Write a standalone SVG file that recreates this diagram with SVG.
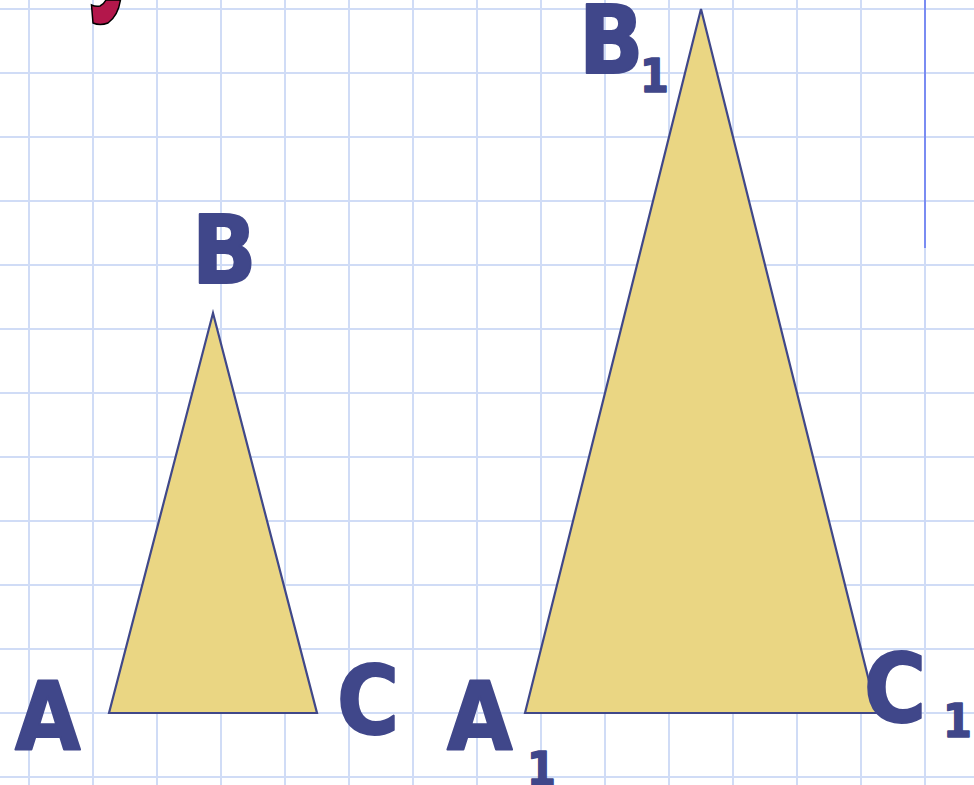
<svg xmlns="http://www.w3.org/2000/svg" width="974" height="785" viewBox="0 0 974 785">
<style>
.grid line{stroke:#d0dcf6;stroke-width:2}
.tri{fill:#ead683;stroke:#404889;stroke-width:2.2;stroke-linejoin:miter}
.lbl{font-family:"DejaVu Sans Condensed","DejaVu Sans",sans-serif;font-weight:bold;fill:#40478a;stroke:#40478a;stroke-width:2;stroke-linejoin:round}
.big{font-size:94px}
.sub{font-size:46px;stroke-width:1.5}
</style>
<rect width="974" height="785" fill="#ffffff"/>
<g class="grid">
<line x1="29" y1="0" x2="29" y2="785"/><line x1="93" y1="0" x2="93" y2="785"/><line x1="157" y1="0" x2="157" y2="785"/><line x1="221" y1="0" x2="221" y2="785"/><line x1="285" y1="0" x2="285" y2="785"/><line x1="349" y1="0" x2="349" y2="785"/><line x1="413" y1="0" x2="413" y2="785"/><line x1="477" y1="0" x2="477" y2="785"/><line x1="541" y1="0" x2="541" y2="785"/><line x1="605" y1="0" x2="605" y2="785"/><line x1="669" y1="0" x2="669" y2="785"/><line x1="733" y1="0" x2="733" y2="785"/><line x1="797" y1="0" x2="797" y2="785"/><line x1="861" y1="0" x2="861" y2="785"/><line x1="925" y1="0" x2="925" y2="785"/>
<line x1="0" y1="9" x2="974" y2="9"/><line x1="0" y1="73" x2="974" y2="73"/><line x1="0" y1="137" x2="974" y2="137"/><line x1="0" y1="201" x2="974" y2="201"/><line x1="0" y1="265" x2="974" y2="265"/><line x1="0" y1="329" x2="974" y2="329"/><line x1="0" y1="393" x2="974" y2="393"/><line x1="0" y1="457" x2="974" y2="457"/><line x1="0" y1="521" x2="974" y2="521"/><line x1="0" y1="585" x2="974" y2="585"/><line x1="0" y1="649" x2="974" y2="649"/><line x1="0" y1="713" x2="974" y2="713"/><line x1="0" y1="777" x2="974" y2="777"/>
</g>
<line x1="925" y1="0" x2="925" y2="248" stroke="#7a8cf2" stroke-width="2"/>
<path d="M91.5,5 Q96,7 100,6 Q104,4 106,0 L120.5,0 Q118,16 108,23 Q100,26 93,23 Z" fill="#b3174b" stroke="#000" stroke-width="1.5"/>
<g id="triangle-abc">
<polygon class="tri" points="109,713 213,313 317,713"/>
</g>
<g id="triangle-a1b1c1">
<polygon class="tri" points="525,713 701,9 877,713"/>
</g>
<g id="label-a"><text class="lbl big" x="15" y="750">A</text></g>
<g id="label-b"><text class="lbl big" x="192" y="283">B</text></g>
<g id="label-c"><text class="lbl big" x="337" y="734">C</text></g>
<g id="label-a1"><text class="lbl big" x="447" y="750">A</text><text class="lbl sub" x="527" y="785">1</text></g>
<g id="label-b1"><text class="lbl big" x="579" y="73">B</text><text class="lbl sub" x="640" y="92">1</text></g>
<g id="label-c1"><text class="lbl big" x="864" y="722">C</text><text class="lbl sub" x="943" y="737">1</text></g>
</svg>
